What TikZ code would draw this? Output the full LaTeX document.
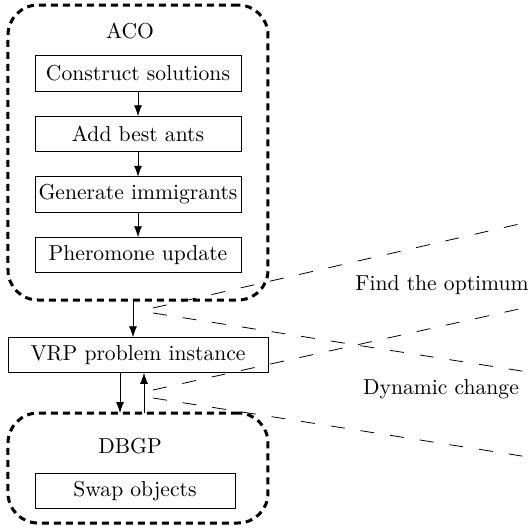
\documentclass[tikz,border=0pt]{standalone}
\usetikzlibrary{arrows.meta}

\begin{document}
\begin{tikzpicture}[x=0.5pt,y=-0.5pt,
	font=\fontsize{10.8}{12}\selectfont,
	box/.style={draw,inner sep=0,outer sep=0,minimum height=17.75pt},
	group/.style={draw,rounded corners=15pt,line width=1.5pt,dash pattern=on 3.5pt off 2.5pt,inner sep=0,outer sep=0,minimum width=130pt},
	link/.style={-{Latex[length=5.5pt,width=4pt]}},
	zoomline/.style={dash pattern=on 7pt off 8pt}]
	\useasboundingbox (0,0) rectangle (528,532);
	\node[group,minimum height=147.5pt] (aco) at (138,152.5) {};
	\node (acolabel) at (130,31) {ACO};
	\node[box,minimum width=103pt] (1) at (138,73.5) {Construct solutions};
	\node[box,minimum width=103pt] (2) at (138,134) {Add best ants};
	\node[box,minimum width=103pt] (3) at (138,194.5) {Generate immigrants};
	\node[box,minimum width=103pt] (4) at (138,255) {Pheromone update};
	\draw[link] (1) -- (2);
	\draw[link] (2) -- (3);
	\draw[link] (3) -- (4);
	\node[box,minimum width=130pt] (vrp) at (138,355) {VRP problem instance};
	\node[group,minimum height=55pt] (dbgp) at (138,468) {};
	\node (dbgplabel) at (130,446) {DBGP};
	\node[box,minimum width=100pt] (5) at (135,491) {Swap objects};
	\draw[link] ([xshift=-2.5pt]aco.south) -- ([xshift=-2.5pt]vrp.north);
	\draw[link] ([xshift=-9pt]vrp.south) -- ([xshift=-9pt]dbgp.north);
	\draw[link] ([xshift=3pt]dbgp.north) -- ([xshift=3pt]vrp.south);
	% lines to the right
	\coordinate (o1) at (153,308);
	\coordinate (o2) at (153,313);
	\coordinate (o3) at (153,390);
	\coordinate (o4) at (153,398);
	\coordinate (e1) at (528,222);
	\coordinate (e2) at (528,372);
	\coordinate (e3) at (528,307);
	\coordinate (e4) at (528,457);
	\draw[zoomline] (o1) -- (e1);
	\draw[zoomline] (o2) -- (e2);
	\draw[zoomline] (o3) -- (e3);
	\draw[zoomline] (o4) -- (e4);
	\node (find) at (442,285) {Find the optimum};
	\node (dyn) at (441,389) {Dynamic change};
\end{tikzpicture}
\end{document}
